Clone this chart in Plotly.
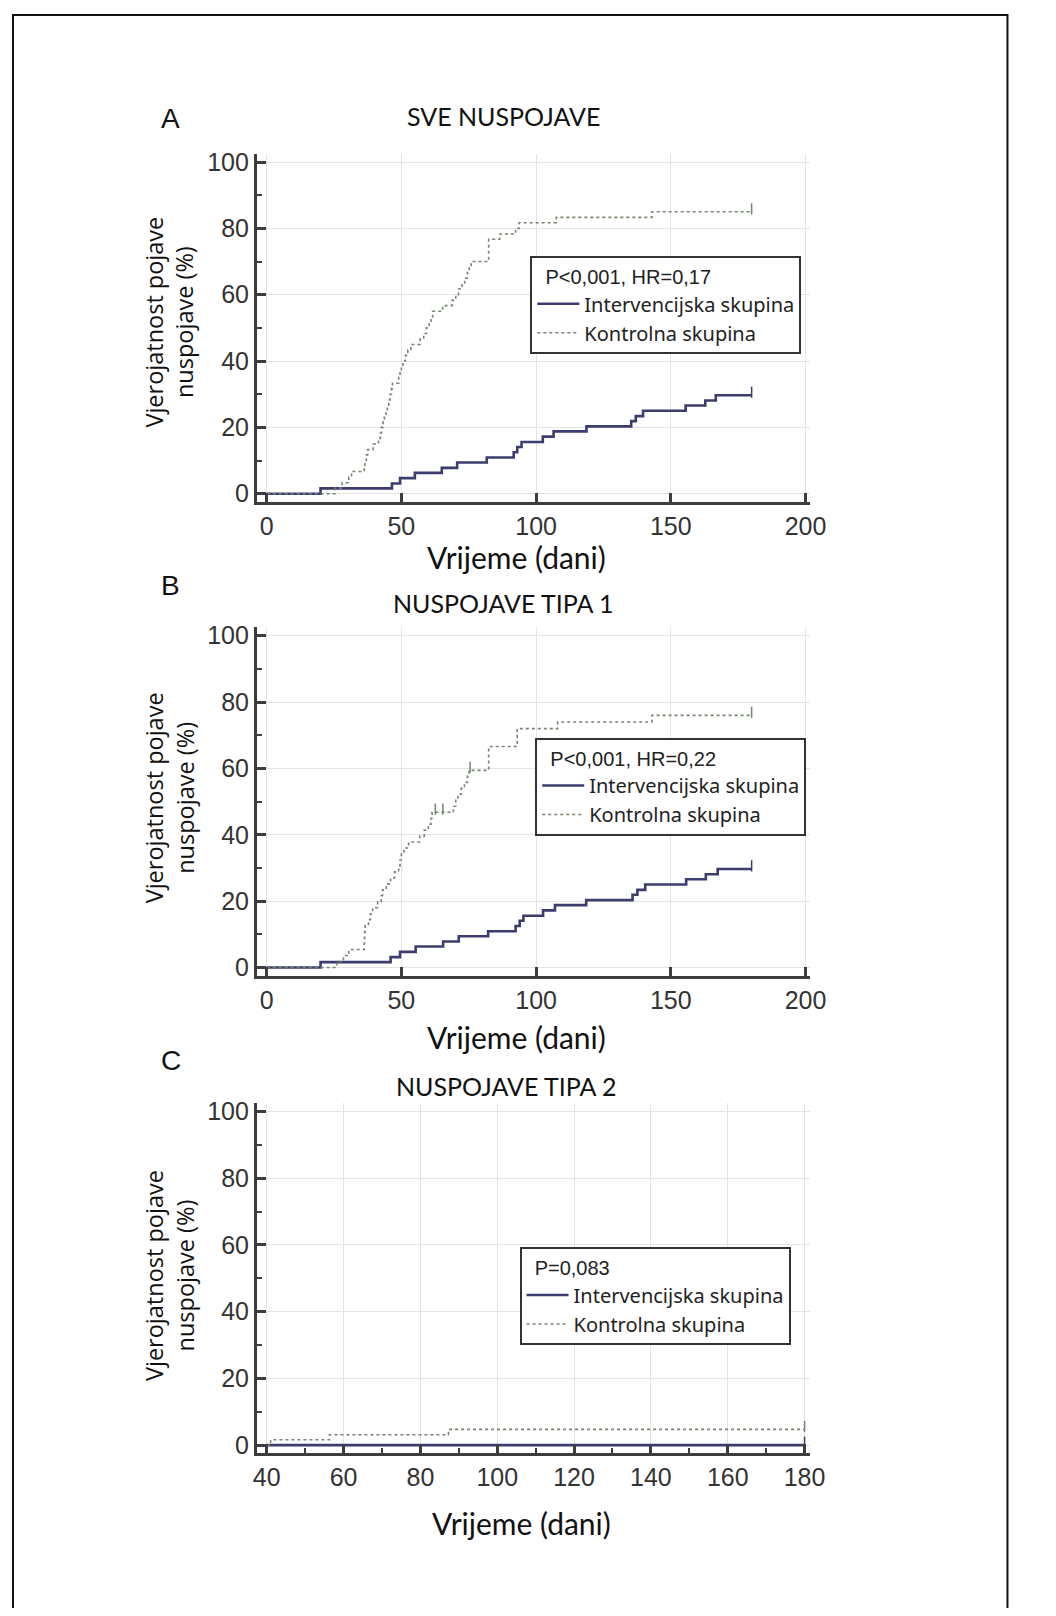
import numpy as np
import plotly.graph_objects as go

# page body has an 8px margin; figure is sized so it fits the 1056x1616 window
OFF = 8
W, H = 1040, 1600

# ---------------- data ----------------
# Panel A - all adverse events
a_int_days = [0, 20, 46.5, 49.5, 55, 65, 70.7, 81.7, 91.7, 93, 94.6, 102.5, 106.5, 118.7,
              135.3, 137, 139.7, 155.5, 162.8, 166.7, 180]
a_int_pct = [0, 1.6, 3.1, 4.7, 6.3, 7.8, 9.4, 10.9, 12.5, 14.1, 15.6, 17.2, 18.8, 20.3,
             21.9, 23.4, 25.0, 26.6, 28.1, 29.7, 29.7]
a_ctrl_days = [0, 25.5, 28, 30.5, 31.5, 36.2, 36.5, 37, 37.5, 39.5, 41.5, 42.2, 42.6, 43.2,
               43.7, 44.3, 44.8, 45.3, 45.8, 46.3, 46.7, 49.0, 49.5, 50.0, 50.6, 51.5, 52.4,
               53.5, 57.0, 58.3, 59.3, 60.3, 61.0, 61.6, 65.3, 68.8, 70.2, 71.2, 72.5, 73.5,
               74.5, 75.2, 75.9, 82.4, 86.5, 92.4, 93.7, 107.5, 143, 180]
a_ctrl_pct = [0, 1.7, 3.3, 5.0, 6.7, 8.3, 10.0, 11.7, 13.3, 15.0, 16.7, 18.3, 20.0, 21.7,
              23.3, 25.0, 26.7, 28.3, 30.0, 31.7, 33.3, 35.0, 36.7, 38.3, 40.0, 41.7, 43.3,
              45.0, 46.7, 48.3, 50.0, 51.7, 53.3, 55.0, 56.7, 58.3, 60.0, 61.7, 63.3, 65.0,
              66.7, 68.3, 70.0, 76.7, 78.3, 80.0, 81.7, 83.3, 85.0, 85.0]
a_censor_days = [180]

# Panel B - type 1 adverse events
b_int_days = [0, 20, 46, 49.5, 55.3, 65.5, 71.3, 82.2, 92.4, 93.9, 95.3, 102.6, 107, 118.6,
              135.8, 137.6, 140.5, 155.7, 163, 167.4, 180]
b_int_pct = [0, 1.6, 3.1, 4.7, 6.3, 7.8, 9.4, 10.9, 12.5, 14.1, 15.6, 17.2, 18.8, 20.3,
             21.9, 23.4, 25.0, 26.6, 28.1, 29.7, 29.7]
b_ctrl_days = [0, 26, 28.5, 30.5, 36.2, 36.3, 36.4, 36.6, 37.8, 38.5, 39.3, 41.2, 42.5, 43.0,
               44.4, 46.0, 47.5, 49.0, 49.5, 50.0, 51.0, 52.7, 56.8, 58.5, 60.0, 61.0, 61.4,
               69.3, 70.2, 71.0, 72.2, 73.4, 74.5, 75.1, 82.4, 93.0, 108.0, 143.0, 180.0]
b_ctrl_pct = [0, 1.8, 3.6, 5.4, 7.2, 9.0, 10.8, 12.6, 14.4, 16.2, 18.0, 19.8, 21.6, 23.4,
              25.2, 27.0, 28.8, 30.6, 32.4, 34.2, 36.0, 37.8, 39.6, 41.4, 43.2, 45.0, 46.8,
              48.6, 50.4, 52.2, 54.0, 55.8, 57.6, 59.4, 66.6, 72.0, 74.0, 76.0, 76.0]
b_ctrl_censor_days = [62.6, 65.4, 75.5, 180]
b_int_censor_days = [180]

# Panel C - type 2 adverse events
c_int_days = [40, 180]
c_int_pct = [0, 0]
c_ctrl_days = [40, 41, 56.3, 87.3, 180]
c_ctrl_pct = [0, 1.6, 3.1, 4.7, 4.7]
c_censor_days = [180]

panel_letters = ["A", "B", "C"]
panel_titles = ["SVE NUSPOJAVE", "NUSPOJAVE TIPA 1", "NUSPOJAVE TIPA 2"]
legend_titles = ["P<0,001, HR=0,17", "P<0,001, HR=0,22", "P=0,083"]
series_names = ["Intervencijska skupina", "Kontrolna skupina"]
x_title = "Vrijeme (dani)"
y_title = "Vjerojatnost pojave<br>nuspojave (%)"
ab_xticks = [0, 50, 100, 150, 200]
c_xticks = [40, 60, 80, 100, 120, 140, 160, 180]
y_ticks = [0, 20, 40, 60, 80, 100]

INT_COLOR = "#3c3c6e"
CTRL_COLOR = "#74866e"
AX_COLOR = "#3d3d3d"
GRID = "#e4e4e4"


def step_at(days, pct, t):
    d = np.asarray(days, dtype=float)
    p = np.asarray(pct, dtype=float)
    idx = np.searchsorted(d, t, side="right") - 1
    return p[np.clip(idx, 0, len(p) - 1)]


def fy(px):  # reference page pixel -> paper y
    return 1 - (px - OFF) / H


def fx(px):  # reference page pixel -> paper x
    return (px - OFF) / W


fig = go.Figure()

panels = [
    dict(xr=[-3.6, 201.5], yr=[-2.5, 102.5], top=148.7, bot=499.4, xt=ab_xticks, minor_x=None,
         int_=(a_int_days, a_int_pct, a_censor_days),
         ctrl=(a_ctrl_days, a_ctrl_pct, a_censor_days),
         leg=(537, 252)),
    dict(xr=[-3.6, 201.5], yr=[-2.5, 102.5], top=625.7, bot=976.4, xt=ab_xticks, minor_x=None,
         int_=(b_int_days, b_int_pct, b_int_censor_days),
         ctrl=(b_ctrl_days, b_ctrl_pct, b_ctrl_censor_days),
         leg=(542, 737)),
    dict(xr=[37.45, 181.3], yr=[-2.5, 102.5], top=1104.6, bot=1457.4, xt=c_xticks, minor_x=10,
         int_=(c_int_days, c_int_pct, c_censor_days),
         ctrl=(c_ctrl_days, c_ctrl_pct, c_censor_days),
         leg=(526, 1250)),
]

x_left, x_right = 258, 822
tickfont = dict(family="Liberation Sans", size=25, color="#333333")

for i, p in enumerate(panels):
    n = "" if i == 0 else str(i + 1)
    xa = "x" + n
    ya = "y" + n
    leg = "legend" + n

    for (days, pct, cens), name, color, dash, width in [
        (p["int_"], series_names[0], INT_COLOR, "solid", 2.6),
        (p["ctrl"], series_names[1], CTRL_COLOR, "dot", 1.6),
    ]:
        fig.add_trace(go.Scatter(
            x=days, y=pct, mode="lines", name=name, line_shape="hv",
            line=dict(color=color, width=width, dash=dash),
            xaxis=xa, yaxis=ya, legend=leg, showlegend=True))
        cy = step_at(days, pct, cens)
        fig.add_trace(go.Scatter(
            x=cens, y=cy + 0.9, mode="markers", showlegend=False,
            marker=dict(symbol="line-ns", size=8, line=dict(color=color, width=1.5)),
            xaxis=xa, yaxis=ya, hoverinfo="skip"))

    xdom = [fx(x_left), fx(x_right)]
    ydom = [fy(p["bot"]), fy(p["top"])]
    xaxis = dict(domain=xdom, range=p["xr"], anchor=ya, showline=True, linecolor=AX_COLOR,
                 linewidth=3, ticks="inside", ticklen=9, tickwidth=2.5, tickcolor=AX_COLOR,
                 tickvals=p["xt"], showgrid=True, gridcolor=GRID, gridwidth=1, zeroline=False,
                 tickfont=tickfont)
    if p["minor_x"]:
        xaxis["minor"] = dict(dtick=p["minor_x"], ticks="inside", ticklen=5, tickwidth=1.5,
                              tickcolor=AX_COLOR, showgrid=False)
    yaxis = dict(domain=ydom, range=p["yr"], anchor=xa, showline=True, linecolor=AX_COLOR,
                 linewidth=3, ticks="inside", ticklen=9, tickwidth=2.5, tickcolor=AX_COLOR,
                 tickvals=y_ticks, showgrid=True, gridcolor=GRID, gridwidth=1, zeroline=False,
                 tickfont=tickfont,
                 minor=dict(dtick=10, ticks="inside", ticklen=5, tickwidth=1.5,
                            tickcolor=AX_COLOR, showgrid=False))
    fig.layout["xaxis" + n] = xaxis
    fig.layout["yaxis" + n] = yaxis

    lx, ly = p["leg"]
    fig.layout[leg] = dict(
        title=dict(text="\u00a0\u00a0" + legend_titles[i],
                   font=dict(family="Liberation Sans", size=20, color="#222")),
        x=fx(lx), y=fy(ly), xanchor="left", yanchor="top", xref="paper", yref="paper",
        bordercolor="#333333", borderwidth=2, bgcolor="white", itemwidth=42,
        entrywidth=240, entrywidthmode="pixels",
        font=dict(family="Noto Sans", size=20, color="#222"), tracegroupgap=0)

annotations = []
letter_y = [113, 583, 1062]
title_pos = [(510, 111), (510, 601), (513, 1087)]
xtitle_pos = [(523, 555), (523, 1038), (528, 1527)]
ytitle_y = [318, 797, 1278]


def ann(text, x, y, size, family, angle=0):
    return dict(text=text, x=fx(x), y=fy(y), xref="paper", yref="paper", showarrow=False,
                xanchor="center", yanchor="middle", textangle=angle,
                font=dict(family=family, size=size, color="#111"))


for i in range(3):
    annotations.append(ann(panel_letters[i], 170, letter_y[i], 28, "Liberation Sans"))
    annotations.append(ann(panel_titles[i], title_pos[i][0], title_pos[i][1], 25, "Lato"))
    annotations.append(ann(x_title, xtitle_pos[i][0], xtitle_pos[i][1], 30, "Lato"))
    annotations.append(ann(y_title, 169, ytitle_y[i], 23.5, "Open Sans", angle=-90))

fig.update_layout(
    width=W, height=H, margin=dict(l=0, r=0, t=0, b=0),
    paper_bgcolor="white", plot_bgcolor="white",
    annotations=annotations,
    shapes=[dict(type="rect", xref="paper", yref="paper", x0=fx(9), x1=fx(1024),
                 y0=-0.01, y1=fy(9), line=dict(color="#111", width=2))],
)

fig.write_html("out.html")
